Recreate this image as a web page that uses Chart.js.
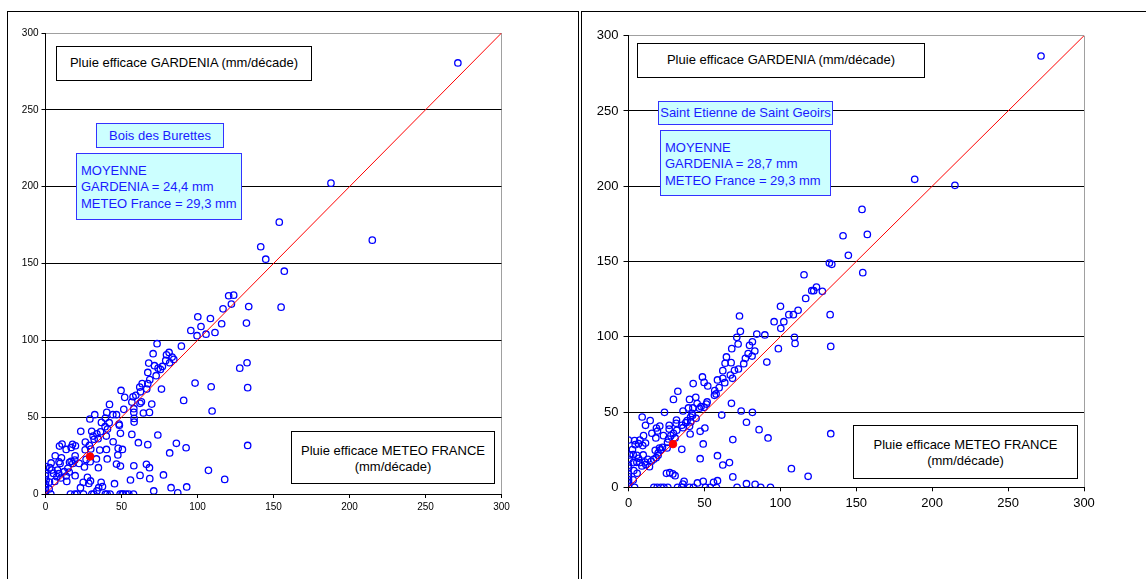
<!DOCTYPE html>
<html lang="fr">
<head>
<meta charset="UTF-8">
<title>Pluie efficace GARDENIA / METEO FRANCE</title>
<script src="https://cdn.jsdelivr.net/npm/chart.js"></script>
<style>
    body { margin: 0; background: #fff; font-family: "Liberation Sans", Arial, sans-serif; }
    .frame { position: absolute; border: 1px solid #000; background: #fff; }
    canvas { position: absolute; }
    .box { position: absolute; box-sizing: border-box; font-size: 13px; line-height: 16.3px; z-index: 2; }
    .black { border: 1px solid #000; background: #fff; color: #000; text-align: center; }
    .cyan { border: 1px solid #3333ff; background: #ccffff; color: #1a1aff; }
</style>
</head>
<body>
<div class="frame" style="left:7px; top:11px; width:570px; height:600px;"></div>
<div class="frame" style="left:581px; top:11px; width:600px; height:600px;"></div>

<canvas id="leftChart" width="560" height="560" style="left:8px; top:12px;"></canvas>
<canvas id="rightChart" width="563" height="567" style="left:583px; top:12px;"></canvas>

<!-- boîtes de texte, graphique gauche -->
<div class="box black" style="left:56px; top:46px; width:256px; height:35px; padding-top:8px;">Pluie efficace GARDENIA (mm/décade)</div>
<div class="box cyan" style="left:96px; top:123px; width:128px; height:25px; padding-top:4px; text-align:center;">Bois des Burettes</div>
<div class="box cyan" style="left:76px; top:153px; width:166px; height:67px; padding:9px 0 0 4px;">MOYENNE<br>GARDENIA = 24,4 mm<br>METEO France = 29,3 mm</div>
<div class="box black" style="left:291px; top:431px; width:204px; height:53px; padding-top:11px;">Pluie efficace METEO FRANCE<br>(mm/décade)</div>

<!-- boîtes de texte, graphique droit -->
<div class="box black" style="left:637px; top:43px; width:288px; height:35px; padding-top:8px;">Pluie efficace GARDENIA (mm/décade)</div>
<div class="box cyan" style="left:658px; top:101px; width:175px; height:24px; padding-top:3px; text-align:center;">Saint Etienne de Saint Geoirs</div>
<div class="box cyan" style="left:660px; top:130px; width:171px; height:66px; padding:9px 0 0 4px;">MOYENNE<br>GARDENIA = 28,7 mm<br>METEO France = 29,3 mm</div>
<div class="box black" style="left:853px; top:425px; width:225px; height:54px; padding-top:11px;">Pluie efficace METEO FRANCE<br>(mm/décade)</div>

<script>
// Bois des Burettes : pluie METEO FRANCE (x) / GARDENIA (y), mm/décade
const burettesMeteo = [
    271.3, 187.8, 215, 153.8, 141.6, 144.9, 157.1, 155, 133.7, 132.2, 120.5, 123.8, 122.3, 116.8, 115.9,
    108.5, 111.5, 105.6, 102.3, 100.2, 99.7, 95.6, 89.4, 73.4, 70.8, 81.3, 79.6, 83.3, 79.1, 81.7,
    84.4, 76.9, 74.1, 71.7, 67.9, 75.6, 67.3, 72.8, 68.6, 67.3, 63.6, 62, 66.6, 76.3, 62.5,
    49.7, 52.1, 59.4, 57.6, 56.8, 63.1, 62.2, 69.9, 90.9, 98.4, 109, 109.6, 127.8, 132.6, 133,
    133, 107.2, 117.9, 92.9, 87, 82.6, 86.1, 92.5, 81.7, 77.6, 73.9, 71.2, 67.3, 66.4, 68.4,
    68.6, 62.2, 61.1, 58.1, 56.8, 55.9, 58.3, 58.3, 58.1, 58.1, 51.5, 64.4, 68.4, 49.3, 48.4,
    48.6, 47.6, 46.7, 49.3, 47.8, 50.6, 45.4, 44.5, 46.7, 44.3, 42.1, 40.3, 39.4, 41.9, 39.2,
    40.8, 40, 40.6, 40.1, 36.8, 36.2, 32.4, 29.2, 33.8, 32, 34.6, 30.4, 31.3, 23.2, 26.2,
    28.9, 26.1, 29.8, 35.7, 33.5, 34.8, 29.4, 26.7, 25.6, 22.1, 19.5, 19.7, 17.8, 16.9, 15.8,
    19.3, 16.9, 18, 19.5, 15.6, 14.7, 13.6, 10.9, 9.2, 10.5, 8.9, 9.6, 6.4, 3.7, 2.8,
    0.2, 0, 0, 0.4, 0, 0, 0, 0, 4.2, 5.3, 7.9, 8.8, 7.5, 6.1, 2.6,
    10.1, 12.3, 13.6, 14, 3.5, 2.4, 16.4, 19.3, 20.8, 25, 30.5, 31.8, 39.4, 40.5, 42.5,
    49.1, 50.4, 51.1, 53, 54.8, 57.9, 23, 24.8, 27.6, 28.5, 29.6, 35, 36.6, 37.5, 33.8
];
const burettesGardenia = [
    280.5, 202.3, 165.2, 176.9, 160.9, 152.8, 145, 121.6, 122, 111.2, 129, 129.4, 123.6, 120.5, 110.8,
    114.2, 105.1, 104, 109, 115.3, 103, 106.4, 96.2, 97.8, 91.3, 92.1, 90.6, 89.1, 86.9, 85.4,
    87.6, 83, 81.9, 83.5, 85.2, 81.1, 79.1, 77, 74.4, 71.8, 71.8, 69.6, 68.3, 68.3, 66.5,
    67.4, 62.9, 64.2, 63.3, 59.8, 60, 59, 58.5, 60.9, 72.2, 69.8, 54, 81.9, 85.4, 69.2,
    31.6, 15.4, 9.5, 4.6, 0.7, 4.1, 33, 30.1, 26.7, 12.4, 38.4, 2, 32.1, 19.3, 17.1,
    10, 12.1, 33.4, 18.4, 38.8, 9.1, 49.2, 46.8, 53.1, 55.5, 55.1, 52.7, 53.1, 39.5, 45.5,
    44.7, 25.4, 19.5, 18.2, 29.7, 29, 6.7, 34, 51.6, 51.6, 58.3, 53.1, 49.4, 46.4, 43.8,
    42.3, 37.7, 22.8, 29, 46.6, 40.5, 51.6, 48.8, 39.2, 35.6, 36, 40.8, 37.7, 40.8, 33.8,
    31.6, 28.8, 29.3, 28.6, 22.8, 17.1, 21, 22.5, 17.6, 19.9, 24.9, 31.4, 32.3, 30.3, 20.6,
    22.1, 21.2, 19.9, 11.9, 14.3, 16.7, 29, 32.5, 31.2, 23.6, 21, 19.9, 24.9, 20.2, 17.1,
    17.8, 13.4, 11.9, 9.1, 6.5, 4.3, 2.4, 0, 15.6, 13.4, 15.6, 13.2, 11.3, 8.2, 7.8,
    10.4, 14.5, 11.7, 8.2, 0, 3.3, 0, 0, 0, 0, 0, 0, 0, 0, 0,
    0, 0, 0, 0, 0, 0, 4.1, 7.6, 10.8, 6.9, 8.5, 4.1, 7.6, 4.8, 2
];

// Saint Etienne de Saint Geoirs : pluie METEO FRANCE (x) / GARDENIA (y), mm/décade
const geoirsMeteo = [
    271.7, 188.5, 215, 153.8, 141.3, 157.3, 144.8, 132.3, 133.9, 154.3, 115.6, 116.7, 123.8, 120.7, 122,
    127.7, 132.8, 133.2, 100.1, 105.6, 108.6, 111.7, 95.9, 102.3, 100.3, 109.3, 109.7, 98.7, 91.1, 89.8,
    84.5, 83.2, 81.6, 79.7, 81.4, 78.8, 77, 75.9, 72.4, 69.8, 73.7, 73.1, 71.3, 72.2, 68,
    67.6, 64.5, 63.6, 62.1, 67.1, 68.5, 62.1, 63.4, 58.6, 59.7, 56.8, 57.7, 56.6, 48.7, 49.8,
    52.2, 42.6, 32.5, 29.6, 40.2, 44.3, 45.2, 47.8, 46.7, 49.8, 51.8, 51.3, 42.4, 39.5, 35.9,
    41.8, 40.9, 42.2, 44.5, 38.6, 37.7, 40.2, 41, 35.1, 35.9, 31.6, 31.4, 26.8, 26.8, 31.8,
    29.6, 27.9, 26.3, 30.7, 25.7, 25.4, 40.6, 47.2, 50.3, 49.2, 47.2, 35.1, 23.7, 20.6, 18.4,
    19.1, 18, 23, 15.4, 14.3, 11.2, 9, 9.9, 11.2, 9.4, 7.5, 4, 0, 4.4, 6.6,
    2.6, 5.5, 0.7, 3.1, 9.7, 6.6, 12.7, 15, 16.6, 18.2, 19.5, 20.4, 22.4, 21.1, 17.6,
    19.5, 13.8, 11.4, 8.8, 10.8, 5.5, 7.5, 3.1, 0.4, 0, 0, 3.5, 5.7, 3.1, 0,
    0, 0, 0, 0, 4, 16.7, 18.9, 21.3, 23.3, 25.9, 32.3, 35.1, 40.2, 42.8, 50.7,
    53.8, 57.9, 71.5, 87.1, 93.5, 25, 27.2, 29.2, 30.7, 36.6, 35.8, 45.4, 49.2, 56, 58.6,
    68.7, 77.7, 83.4, 67.8, 74.2, 81.6, 61.4, 77.7, 86, 91.9, 68.7, 58.6, 62.1, 66.5, 107.3,
    118.3, 133.2
];
const geoirsGardenia = [
    286.5, 204.6, 200.6, 184.6, 167.1, 168, 154.1, 149, 148.1, 142.6, 141.2, 125.5, 133, 130.6, 130.6,
    130.2, 114.7, 93.6, 120.2, 114.7, 114.7, 117.6, 110, 110, 105.6, 99.6, 95.6, 92.1, 83.2, 101.2,
    101.8, 90.5, 96.7, 94.3, 87.2, 88.8, 85.7, 82.1, 78.6, 77.7, 103.6, 113.8, 99.6, 95.2, 92.1,
    82.8, 86.6, 82.4, 77.5, 74.6, 72.4, 72.4, 69.5, 71.3, 66.2, 64.2, 62, 61.1, 73.3, 69.7,
    67.3, 68.9, 63.8, 58.4, 58.4, 59.8, 55.6, 53.6, 52.5, 53.1, 56.7, 55.3, 52.7, 52.7, 50.7,
    49.1, 46.7, 47.8, 45.8, 44.3, 42.9, 40.5, 43.4, 41.2, 39.6, 44.7, 42.5, 41.2, 38.7, 37.9,
    35.9, 34.3, 32.1, 32.8, 29.9, 26.1, 35.4, 37.2, 39.4, 28.8, 19, 25.2, 49.8, 40.7, 39.4,
    37.4, 32.8, 34.3, 35.9, 44.3, 41.2, 46.7, 34.3, 29.4, 27.7, 31.4, 31, 31.4, 28.3, 29,
    25, 21.3, 21.5, 21.7, 21.5, 19.3, 18.6, 17.3, 18.6, 19.7, 21.3, 26.1, 26.6, 24.8, 24.6,
    22.8, 13.7, 15.1, 14.2, 16.8, 16.6, 16.4, 16.4, 18.6, 14.6, 12.8, 11.1, 9.3, 4.9, 9.3,
    7.1, 4.9, 3.1, 0.4, 0, 0, 0, 0, 0, 0, 0, 0, 0, 0, 0,
    0, 0, 0, 0, 0, 9.3, 9.7, 8.9, 7.7, 4, 2.2, 2.9, 4, 3.3, 4.4,
    6.9, 2.4, 2, 55.8, 50.7, 49.8, 48, 43.2, 38.3, 32.8, 31.7, 21, 14.8, 16.4, 12.4,
    7.3, 35.6
];

// moyennes (point rouge)
const burettesMean = [29.3, 24.4];
const geoirsMean = [29.3, 28.7];

const axisTicks = [0, 50, 100, 150, 200, 250, 300];

function toPoints(xs, ys) {
    return xs.map((x, i) => ({ x: x, y: ys[i] }));
}

function makeChart(id, xs, ys, mean, cfg) {
    const ctx = document.getElementById(id).getContext('2d');
    return new Chart(ctx, {
        type: 'scatter',
        data: {
            datasets: [
                {
                    data: toPoints(xs, ys),
                    pointStyle: 'circle',
                    pointRadius: 3.2,
                    pointBorderWidth: 1.3,
                    pointBackgroundColor: 'rgba(0,0,0,0)',
                    pointBorderColor: '#0000ff',
                    order: 2
                },
                {
                    type: 'line',
                    data: [{ x: axisTicks[0], y: axisTicks[0] }, { x: axisTicks[axisTicks.length - 1], y: axisTicks[axisTicks.length - 1] }],
                    borderColor: '#ff0000',
                    borderWidth: 1,
                    pointRadius: 0,
                    order: 1
                },
                {
                    data: [{ x: mean[0], y: mean[1] }],
                    pointRadius: 3.8,
                    pointBackgroundColor: '#ff0000',
                    pointBorderColor: '#ff0000',
                    order: 0
                }
            ]
        },
        options: {
            responsive: false,
            animation: false,
            devicePixelRatio: 1,
            layout: { padding: cfg.padding },
            plugins: { legend: { display: false }, tooltip: { enabled: false } },
            scales: {
                x: {
                    type: 'linear',
                    min: 0,
                    max: 300,
                    afterBuildTicks: s => { s.ticks = axisTicks.map(v => ({ value: v })); },
                    afterFit: s => { s.height = 24; },
                    border: { color: '#000', width: 1 },
                    grid: {
                        color: c => (c.tick && c.tick.value === 300) ? '#a0a0a0' : 'rgba(0,0,0,0)',
                        tickColor: '#000',
                        tickLength: 4
                    },
                    ticks: { color: '#000', font: { size: cfg.fontSize, family: 'Liberation Sans' }, padding: cfg.xPad, maxRotation: 0 }
                },
                y: {
                    type: 'linear',
                    min: 0,
                    max: 300,
                    afterBuildTicks: s => { s.ticks = axisTicks.map(v => ({ value: v })); },
                    afterFit: s => { s.width = cfg.yWidth; },
                    border: { color: '#000', width: 1 },
                    grid: {
                        color: c => (c.tick && c.tick.value === 300) ? '#a0a0a0' : '#000',
                        tickColor: '#000',
                        tickLength: cfg.tickLen
                    },
                    ticks: { color: '#000', font: { size: cfg.fontSize, family: 'Liberation Sans' }, padding: cfg.yPad }
                }
            }
        }
    });
}

makeChart('leftChart', burettesMeteo, burettesGardenia, burettesMean, {
    padding: { left: 0, top: 21, right: 66.5, bottom: 54 },
    yWidth: 37.5, fontSize: 10, tickLen: 4, yPad: 3, xPad: 3
});
makeChart('rightChart', geoirsMeteo, geoirsGardenia, geoirsMean, {
    padding: { left: 0, top: 23.7, right: 62, bottom: 67.7 },
    yWidth: 45.5, fontSize: 13, tickLen: 5, yPad: 5, xPad: 4
});
</script>
</body>
</html>
